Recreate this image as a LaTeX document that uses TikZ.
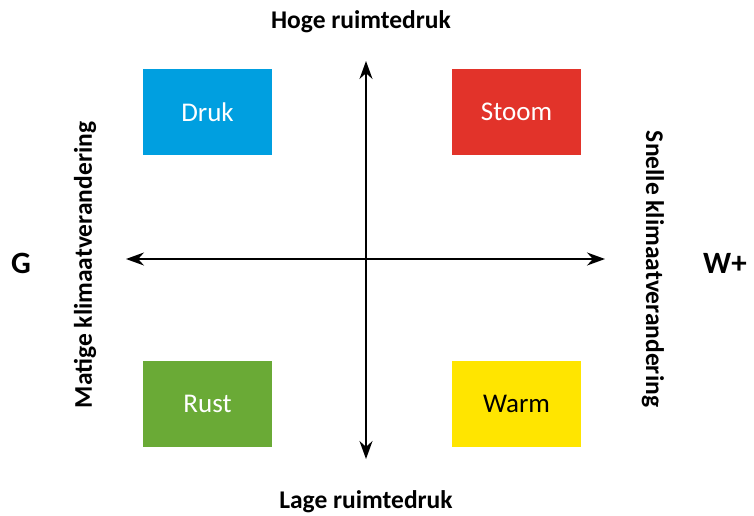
\documentclass[tikz,border=0pt]{standalone}
\usepackage{fontspec}
\setmainfont{Carlito}
\usetikzlibrary{arrows.meta}
\definecolor{cblue}{HTML}{009FE0}
\definecolor{cred}{HTML}{E2332A}
\definecolor{cgreen}{HTML}{6AAA36}
\definecolor{cyellow}{HTML}{FFE500}
\tikzset{
  quad/.style={minimum width=129pt,minimum height=86pt,inner sep=0pt,font=\fontsize{27}{30}\selectfont},
  axis/.style={line width=1.6pt,{Stealth[length=18pt,width=13pt]}-{Stealth[length=18pt,width=13pt]}},
  lbl/.style={font=\bfseries\fontsize{25.5}{28}\selectfont,inner sep=0pt},
  big/.style={font=\bfseries\fontsize{31}{34}\selectfont,inner sep=0pt}
}
\begin{document}
\begin{tikzpicture}[x=1pt,y=-1pt]
\useasboundingbox (0,0) rectangle (754,515);
\node[quad,fill=cblue,text=white] (druk) at (207.5,112) {Druk};
\node[quad,fill=cred,text=white] (stoom) at (516.5,112) {Stoom};
\node[quad,fill=cgreen,text=white] (rust) at (207.5,404) {Rust};
\node[quad,fill=cyellow,text=black] (warm) at (516.5,404) {Warm};
\coordinate (top) at (366,61);
\coordinate (bot) at (366,459);
\coordinate (lft) at (126,259);
\coordinate (rgt) at (605,259);
\draw[axis] (bot) -- (top);
\draw[axis] (lft) -- (rgt);
\node[lbl] (hoge) at (361,22) {Hoge ruimtedruk};
\node[lbl] (lage) at (366,502) {Lage ruimtedruk};
\node[lbl,rotate=90] (matige) at (85,265) {Matige klimaatverandering};
\node[lbl,rotate=-90] (snelle) at (653,269) {Snelle klimaatverandering};
\node[big] (g) at (21,263) {G};
\node[big] (w) at (725,263) {W+};
\end{tikzpicture}
\end{document}
